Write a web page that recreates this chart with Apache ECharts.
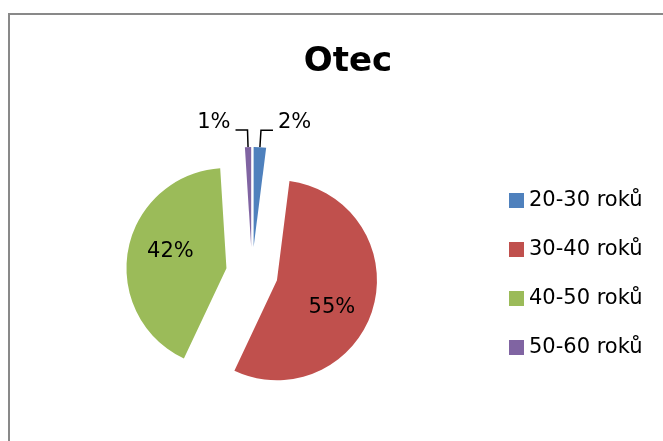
<!DOCTYPE html>
<html>
<head>
<meta charset="utf-8">
<script src="https://cdn.jsdelivr.net/npm/echarts@6/dist/echarts.min.js"></script>
<style>
  html, body { margin: 0; padding: 0; background: #fff; overflow: hidden; }
  #chart { width: 663px; height: 441px; }
  #frame { position: absolute; left: 8px; top: 13px; width: 720px; height: 520px;
           border: 2px solid #898989; pointer-events: none; }
</style>
</head>
<body>
<div id="chart"></div>
<div id="frame"></div>
<script>
(function() {
  'use strict';

  // ========== Data ==========
  var categories = ['20-30 roků', '30-40 roků', '40-50 roků', '50-60 roků'];
  var values = [2, 55, 42, 1];
  var colors = ['#4F81BD', '#C0504D', '#9BBB59', '#8064A2'];
  var font = 'DejaVu Sans';

  // nudges for label placement (Excel puts inside labels a bit further out,
  // outside labels sit above their leader line)
  var labelPadding = [[0, 0, 0, 0], [0, 0, 0, 8], [0, 8, 0, 0], [0, 0, 0, 0]];
  var labelShiftY = [-8, 13, -7, -8];

  var chart = echarts.init(document.getElementById('chart'), null, { renderer: 'canvas' });
  chart.setOption({
    animation: false,
    title: {
      text: 'Otec',
      left: 343,
      top: 40,
      textAlign: 'center',
      textStyle: { fontFamily: font, fontSize: 34, fontWeight: 'bold', color: '#000' }
    },
    legend: {
      orient: 'vertical',
      left: 509,
      top: 190,
      padding: 0,
      icon: 'rect',
      itemWidth: 15,
      itemHeight: 15,
      itemGap: 28,
      selectedMode: false,
      data: categories,
      textStyle: { fontFamily: font, fontSize: 21, lineHeight: 21, color: '#000' }
    },
    series: [{
      type: 'pie',
      center: [252, 273],
      radius: 100,
      startAngle: 90,
      clockwise: true,
      selectedMode: 'multiple',
      selectedOffset: 26,
      avoidLabelOverlap: false,
      label: {
        show: true,
        fontFamily: font,
        fontSize: 21,
        color: '#000',
        formatter: function(p) {
          var s = labelShiftY[p.dataIndex];
          return s < 0 ? p.value + '%\n' : '\n' + p.value + '%';
        }
      },
      labelLine: {
        show: true,
        length: 17,
        length2: 12,
        lineStyle: { color: '#000', width: 1.5 }
      },
      emphasis: { disabled: true },
      data: categories.map(function(name, i) {
        var item = {
          name: name, value: values[i], selected: true,
          itemStyle: { color: colors[i] },
          label: { padding: labelPadding[i], lineHeight: Math.abs(labelShiftY[i]) * 2 }
        };
        if (values[i] > 10) {
          item.label.position = 'inside';
          item.labelLine = { show: false };
        }
        return item;
      })
    }]
  });
  window.addEventListener('resize', function() { chart.resize(); });
})();
</script>
</body>
</html>
